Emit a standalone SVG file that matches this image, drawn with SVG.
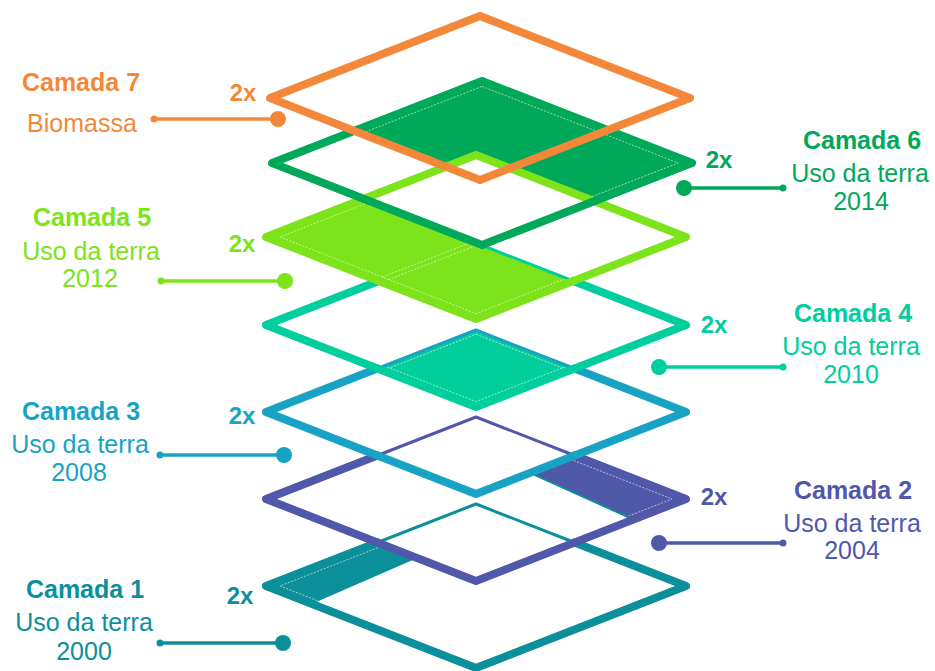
<svg xmlns="http://www.w3.org/2000/svg" width="935" height="671" viewBox="0 0 935 671">
<style>
text{font-family:"Liberation Sans",Arial,sans-serif;font-size:25px;text-anchor:middle}
.t{font-weight:bold}
.x{font-weight:bold;font-size:24px}
.c7{stroke:#F4883A}.c6{stroke:#00A859}.c5{stroke:#7DE31A}
.c4{stroke:#00CE9C}.c3{stroke:#18A3C5}.c2{stroke:#5058AA}.c1{stroke:#0B8F9B}
.k7{fill:#F4883A}.k6{fill:#00A859}.k5{fill:#7DE31A}.k4{fill:#00CE9C}.k3{fill:#18A3C5}.k2{fill:#5058AA}.k1{fill:#0B8F9B}
.thick{fill:none;stroke-width:8;stroke-linejoin:round;stroke-linecap:round}
.thin{fill:none;stroke-width:3;stroke-linejoin:round;stroke-linecap:round}
.ins{fill:none;stroke:#fff;stroke-width:1;stroke-dasharray:2 1.5;opacity:.6}
.ln{stroke-width:3.5;fill:none}
</style>
<defs>
<clipPath id="f1"><path d="M266,586 L377.4,542.5 L417.3,558.1 L311.7,603.9 Z"/></clipPath>
<clipPath id="f2"><path d="M686,499 L633.5,519.5 L530,472.9 L574.6,455.5 Z"/></clipPath>
<clipPath id="f4"><path d="M476,330 L574.6,368.5 L476,407 L377.4,368.5 Z"/></clipPath>
<clipPath id="f5"><path d="M266,237 L363.8,198.8 L482,245 L573.3,281 L476,319 Z"/></clipPath>
<clipPath id="f6"><path d="M354.2,130.9 L482,81 L692,163 L594.3,201.2 L476,155 L446,166.7 Z"/></clipPath>
</defs>
<g id="fills">
<path class="k1" d="M266,586 L377.4,542.5 L417.3,558.1 L311.7,603.9 Z"/>
<path class="ins" clip-path="url(#f1)" d="M476,509.4 L672.2,586 L476,662.6 L279.8,586 Z"/>
<path class="k2" d="M686,499 L633.5,519.5 L530,472.9 L574.6,455.5 Z"/>
<path class="ins" clip-path="url(#f2)" d="M476,422.4 L672.2,499 L476,575.6 L279.8,499 Z"/>
<path d="M633.5,519.5 L530,472.9" stroke="#0B8F9B" stroke-width="2" fill="none"/>
<path class="k4" d="M476,330 L574.6,368.5 L476,407 L377.4,368.5 Z"/>
<path class="ins" clip-path="url(#f4)" d="M476,248.4 L672.2,325 L476,401.6 L279.8,325 Z"/>
<path class="ins" clip-path="url(#f4)" d="M476,334.3 L675,412 L476,489.7 L277,412 Z"/>
<path class="k5" d="M266,237 L363.8,198.8 L482,245 L573.3,281 L476,319 Z"/>
<path class="ins" clip-path="url(#f5)" d="M476,160.4 L672.2,237 L476,313.6 L279.8,237 Z"/>
<path class="ins" clip-path="url(#f5)" d="M378.7,278.5 L476,240.5 M378.7,283.5 L476,245.5"/>
<path class="k6" d="M354.2,130.9 L482,81 L692,163 L594.3,201.2 L476,155 L446,166.7 Z"/>
<path class="ins" clip-path="url(#f6)" d="M482,86.4 L678.2,163 L482,239.6 L285.8,163 Z"/>
</g>
<g id="layer1">
<path class="thin c1" d="M377.4,542.5 L476,504 L574.6,542.5"/>
<path class="thick c1" d="M377.4,542.5 L266,586 L476,668 L686,586 L574.6,542.5"/>
</g>
<g id="layer2">
<path class="thin c2" d="M377.4,455.5 L476,417 L574.6,455.5"/>
<path class="thick c2" d="M377.4,455.5 L266,499 L476,581 L686,499 L574.6,455.5"/>
</g>
<g id="layer3">
<path class="thin c3" d="M377.4,368.5 L476,330 L574.6,368.5"/>
<path class="thick c3" d="M377.4,368.5 L266,412 L476,494 L686,412 L574.6,368.5"/>
</g>
<g id="layer4">
<path class="thin c4" d="M476,243 L573.3,281"/>
<path class="thick c4" d="M378.7,281 L266,325 L476,407 L686,325 L573.3,281"/>
</g>
<g id="layer5">
<path class="thick c5" d="M266,237 L476,155 L686,237 L476,319 Z"/>
</g>
<g id="layer6">
<path class="thick c6" d="M272,163 L482,81 L692,163 L482,245 Z"/>
</g>
<g id="layer7">
<path class="thick c7" d="M270,98 L480,16 L690,98 L480,180 Z"/>
</g>
<g id="connectors">
<path class="ln c7" d="M154,119 H278"/><circle class="k7" cx="154" cy="119" r="3.5"/><circle class="k7" cx="278" cy="119" r="8"/>
<path class="ln c6" d="M684,188 H783"/><circle class="k6" cx="783" cy="188" r="3.5"/><circle class="k6" cx="684" cy="188" r="8"/>
<path class="ln c5" d="M161,281 H285"/><circle class="k5" cx="161" cy="281" r="3.5"/><circle class="k5" cx="285" cy="281" r="8"/>
<path class="ln c4" d="M659,367 H783"/><circle class="k4" cx="783" cy="367" r="3.5"/><circle class="k4" cx="659" cy="367" r="8"/>
<path class="ln c3" d="M160,455 H284"/><circle class="k3" cx="160" cy="455" r="3.5"/><circle class="k3" cx="284" cy="455" r="8"/>
<path class="ln c2" d="M659,543 H783"/><circle class="k2" cx="783" cy="543" r="3.5"/><circle class="k2" cx="659" cy="543" r="8"/>
<path class="ln c1" d="M160,643 H283"/><circle class="k1" cx="160" cy="643" r="3.5"/><circle class="k1" cx="283" cy="643" r="8"/>
</g>
<g id="label7" class="k7">
<text class="t" x="81" y="91">Camada 7</text><text x="82" y="132">Biomassa</text><text class="x" x="243" y="101">2x</text>
</g>
<g id="label6" class="k6">
<text class="t" x="862" y="149">Camada 6</text><text x="860" y="182">Uso da terra</text><text x="861" y="210">2014</text><text class="x" x="719" y="168">2x</text>
</g>
<g id="label5" class="k5">
<text class="t" x="92" y="226">Camada 5</text><text x="91" y="260">Uso da terra</text><text x="90" y="287">2012</text><text class="x" x="242" y="252">2x</text>
</g>
<g id="label4" class="k4">
<text class="t" x="853" y="322">Camada 4</text><text x="851" y="355">Uso da terra</text><text x="851" y="383">2010</text><text class="x" x="714" y="333">2x</text>
</g>
<g id="label3" class="k3">
<text class="t" x="81" y="420">Camada 3</text><text x="80" y="453">Uso da terra</text><text x="79" y="481">2008</text><text class="x" x="242" y="424">2x</text>
</g>
<g id="label2" class="k2">
<text class="t" x="853" y="499">Camada 2</text><text x="852" y="532">Uso da terra</text><text x="852" y="559">2004</text><text class="x" x="714" y="505">2x</text>
</g>
<g id="label1" class="k1">
<text class="t" x="85" y="598">Camada 1</text><text x="84" y="631">Uso da terra</text><text x="84" y="660">2000</text><text class="x" x="240" y="604">2x</text>
</g>
</svg>
